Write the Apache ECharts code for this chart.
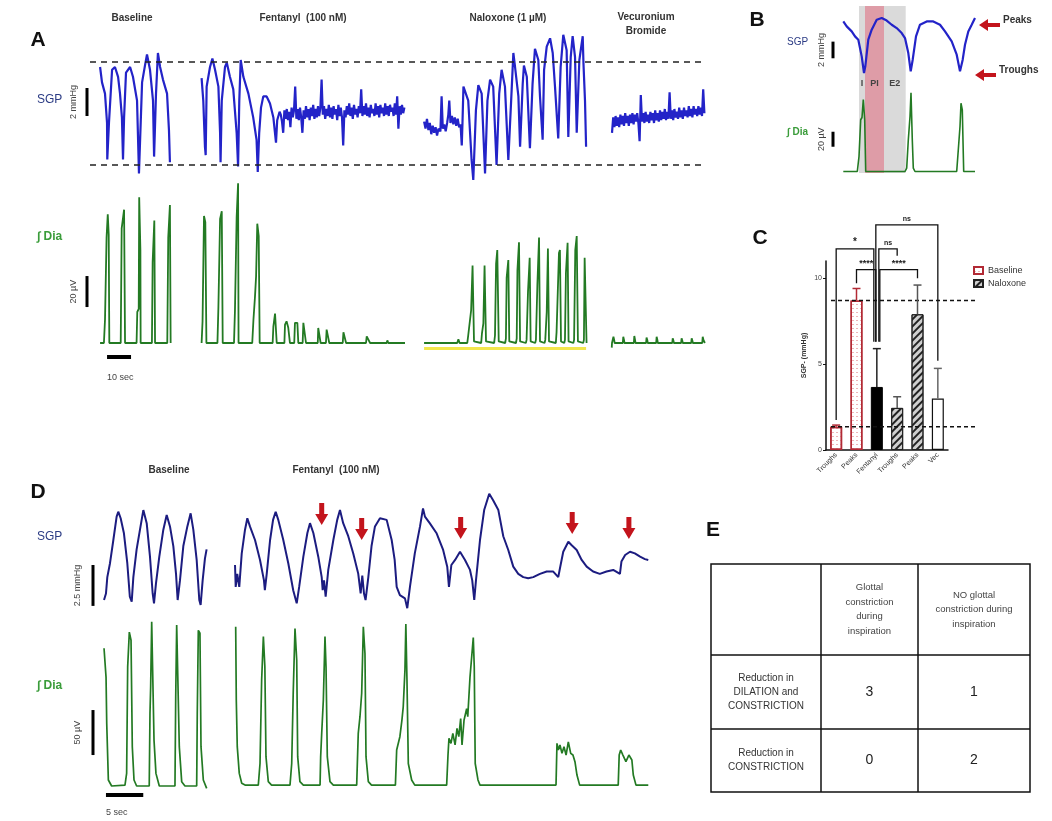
<!DOCTYPE html>
<html><head><meta charset="utf-8">
<script src="https://cdn.jsdelivr.net/npm/echarts@6/dist/echarts.min.js"></script>
<style>html,body{margin:0;padding:0;background:#fff}#c{width:1052px;height:821px}</style>
</head><body><div id="c"></div>
<script>
// ---------------- DATA ----------------
// Panel A – SGP (mmHg, relative to lower dashed line), time in s
const aSgpBase = [[4.2,7.0],[5.0,5.9],[6.25,5.1],[7.1,3.0],[7.2,0.4],[7.9,3.0],[9.2,6.8],[10.4,7.0],[11.7,6.3],[12.5,5.1],[13.3,3.4],[13.75,0.4],[14.2,3.4],[15.0,6.6],[16.7,7.0],[17.9,6.3],[19.6,4.6],[20.4,-0.6],[21.7,5.9],[22.9,7.1],[23.75,7.9],[25.0,6.8],[26.25,4.6],[26.7,0.6],[27.5,5.1],[28.3,8.0],[29.2,7.0],[30.4,6.1],[32.1,5.1],[32.9,2.5],[33.3,0.2]];
const aSgpFentOsc = [[46.5,6.2],[47.2,4.6],[47.9,1.3],[48.2,0.7],[48.6,5.6],[50.0,7.0],[51.0,7.6],[52.1,6.8],[53.5,5.6],[54.2,2.3],[54.4,0.2],[54.9,4.6],[56.25,7.0],[57.0,7.3],[58.3,6.3],[59.7,5.4],[61.1,2.3],[61.7,-0.1],[62.2,4.6],[62.8,7.5],[63.2,7.5],[63.9,6.3],[66.0,5.1],[68.0,3.4],[69.4,1.8],[69.9,-0.5],[70.5,2.3],[71.25,4.1],[72.2,4.9],[73.6,4.9],[75.0,4.4],[76.4,3.4],[77.5,1.6],[78.0,3.2],[79.0,3.8]];
const aSgpFentFlatT0 = 79.5, aSgpFentFlatDt = 0.5;
const aSgpFentFlat = [3.6,3.1,2.3,3.9,3.3,4.0,3.2,3.8,2.7,4.1,3.4,3.9,5.6,3.3,4.0,3.2,4.1,3.4,2.3,3.9,3.3,4.2,3.4,4.0,3.2,4.1,3.5,4.3,3.3,4.0,3.4,4.2,3.5,4.1,6.1,3.6,4.2,3.3,4.0,3.5,4.3,3.4,4.1,3.3,4.2,3.6,4.0,3.2,4.3,3.5,4.1,3.4,1.4,3.9,3.4,4.2,3.6,4.4,3.5,4.1,3.3,4.3,3.6,4.0,3.4,4.2,3.7,5.4,3.5,4.2,3.6,4.4,3.5,4.1,3.4,4.3,3.7,4.0,3.5,4.4,3.6,4.2,3.4,4.3,3.7,4.1,3.5,4.4,3.6,4.2,3.5,4.3,3.8,4.1,3.5,4.4,3.6,4.9,2.6,4.2,3.6,4.3,3.7,4.1];
const aSgpNal = [[139.2,3.1],[139.8,2.6],[140.4,3.3],[141.0,2.5],[141.6,3.0],[142.2,2.2],[142.8,2.8],[143.4,2.3],[144.0,2.7],[144.6,2.1],[145.2,2.6],[146.0,2.4],[146.5,4.9],[147.0,2.6],[147.6,2.9],[148.2,2.4],[148.8,3.0],[149.3,3.6],[149.7,4.6],[150.2,3.0],[150.8,3.5],[151.4,2.9],[152.0,3.4],[152.6,2.8],[153.2,3.3],[153.8,2.7],[154.4,2.9],[154.9,1.4],[155.2,3.0],[155.6,5.6],[157.6,4.6],[159.0,0.36],[159.7,-1.07],[160.8,3.9],[161.8,5.7],[163.2,5.1],[164.6,-0.6],[165.6,4.6],[166.7,6.1],[168.0,5.6],[169.4,0.0],[170.5,5.1],[171.5,6.8],[172.9,5.6],[174.3,0.36],[175.7,5.4],[176.4,8.0],[177.1,7.0],[178.5,4.9],[179.2,1.3],[180.3,5.8],[180.8,7.1],[182.0,6.3],[183.3,1.2],[184.4,5.8],[185.4,8.3],[186.8,7.5],[187.5,4.9],[188.6,1.8],[189.2,6.8],[190.3,8.45],[191.7,9.05],[192.8,8.0],[193.75,5.6],[195.1,1.9],[196.1,7.0],[197.2,9.3],[198.6,8.2],[199.3,2.0],[200.3,7.7],[201.1,9.2],[202.1,7.7],[202.8,2.3],[203.9,7.5],[205.3,9.2],[205.6,7.3],[206.25,4.6],[206.7,1.3]];
const aSgpVecT0 = 217.5, aSgpVecDt = 0.5;
const aSgpVec = [2.3,3.4,2.7,3.5,2.8,3.4,2.7,3.6,2.9,3.5,2.8,3.7,3.0,3.5,2.8,3.6,3.0,3.7,2.9,3.6,3.1,3.7,3.0,1.7,5.0,3.1,3.7,3.0,3.8,3.1,3.6,3.0,3.8,3.2,3.7,3.0,3.9,3.2,3.7,3.1,3.9,3.2,3.8,3.3,4.0,3.2,3.8,3.3,5.2,3.3,3.9,3.2,4.0,3.4,3.8,3.3,4.1,3.4,3.9,3.3,4.1,3.5,3.9,3.4,4.2,3.5,4.0,3.4,4.2,3.6,4.0,3.5,4.2,3.6,4.1,3.5,5.4,3.7];
const aDashLevels = [0, 7.4];
// Panel A – integrated diaphragm (µV)
const aDiaBase = [[4.2,0],[5.8,0],[6.25,15],[6.7,15],[6.9,68],[7.4,83],[7.8,70],[8.05,0],[12.8,0],[13.2,74],[13.6,74],[14.2,86],[14.6,0],[19.4,0],[19.7,20],[20.3,22],[20.5,94],[21.0,60],[21.1,0],[25.8,0],[26.1,52],[26.5,52],[26.8,79],[27.1,0],[32.2,0],[32.6,68],[33.0,68],[33.3,89],[33.6,0]];
const aDiaFent = [[46.5,0],[46.7,0],[46.9,14],[47.4,14],[47.5,82],[48.05,78],[48.5,0],[53.1,0],[53.5,23],[53.9,23],[54.2,80],[54.9,85],[55.3,0],[60.0,0],[60.4,21],[60.8,21],[61.1,81],[61.7,103],[61.9,0],[67.6,0],[68.1,15],[68.75,30],[69.2,43],[69.7,77],[70.3,69],[70.7,0],[76.1,0],[76.4,10.5],[77.1,19],[77.5,20],[77.8,0],[81.0,0],[81.25,11.8],[81.9,14],[82.6,10],[83.1,3],[83.3,0],[85.1,0],[85.4,13],[86.4,13],[86.8,0],[88.6,0],[88.9,13],[89.6,13],[90.0,0],[94.9,0],[95.1,9.7],[95.8,10],[96.1,0],[98.3,0],[98.6,8.6],[99.4,8.6],[99.7,0],[105.3,0],[105.6,6.9],[106.25,7.5],[106.7,0],[115.0,0],[115.3,4.3],[116.0,4.5],[116.7,0],[123.6,0],[123.9,1.7],[124.3,0],[131.25,0]];
const aDiaNal = [[139.2,0],[153.0,0],[153.5,2.4],[154.0,0],[157.2,0],[157.6,5],[158.8,21],[159.4,50],[160.0,1],[163.0,0],[163.3,6],[163.9,12.7],[164.4,50],[165.0,1],[168.4,0],[168.75,5],[169.2,51],[169.7,60],[170.3,1],[173.0,0],[173.3,3],[173.6,42],[174.3,53.5],[174.7,1],[177.5,0],[177.8,3],[178.1,47],[178.75,65],[179.2,1],[181.6,0],[181.9,2],[182.5,33],[183.2,55],[183.6,1],[185.5,0],[185.8,2],[186.4,37],[187.1,68],[187.5,1],[189.4,0],[189.7,2],[190.3,20],[190.8,61],[191.25,1],[194.1,0],[194.4,7],[195.1,8],[195.4,58],[195.8,60],[196.25,1],[197.6,0],[197.9,2],[198.3,45],[199.0,64.7],[199.4,1],[201.4,0],[201.7,2],[202.2,60],[202.8,69],[203.3,1],[205.5,0],[205.8,2],[206.1,55],[206.7,55],[206.9,0]];
const aDiaVec = [[217.4,-3],[217.5,0],[217.9,0],[218.1,4],[218.4,2],[218.6,0],[222.0,0],[222.2,4],[222.5,2],[222.7,0],[226.6,0],[226.8,4.5],[227.1,2],[227.3,0],[231.7,0],[231.9,3.5],[232.2,2],[232.4,0],[235.9,0],[236.1,4],[236.4,2],[236.6,0],[242.6,0],[242.8,3],[243.1,1.5],[243.3,0],[246.3,0],[246.5,3],[246.8,1.5],[247.0,0],[250.5,0],[250.7,3],[251.0,1.5],[251.2,0],[255.1,0],[255.3,4],[255.6,2],[256.2,0]];
const aNaloxonePeriod = [139.2, 206.7];
// Panel B
const bSgp = [[0.33,7.0],[0.67,6.4],[1.17,5.8],[1.5,5.2],[1.83,4.8],[2.17,2.8],[2.4,0.8],[2.53,1.6],[2.83,4.8],[3.17,6.0],[3.67,7.2],[4.17,7.4],[4.67,7.1],[5.17,6.6],[5.67,6.2],[6.17,5.6],[6.5,5.0],[6.83,3.2],[7.07,1.0],[7.27,2.4],[7.6,5.2],[8.0,6.6],[8.67,7.0],[9.33,7.0],[10.0,6.6],[10.5,5.8],[11.17,4.6],[11.67,3.0],[12.0,1.0],[12.27,2.4],[12.5,4.2],[12.83,5.8],[13.17,6.6],[13.5,7.4]];
const bDia = [[0.33,0],[1.73,0],[1.9,20],[2.07,69],[2.2,72],[2.33,96],[2.47,69],[2.57,0],[6.5,0],[6.67,4.5],[6.83,42],[7.0,73],[7.1,105],[7.23,42],[7.33,4.5],[7.5,0],[11.67,0],[11.83,29],[12.0,60],[12.1,91],[12.23,82],[12.37,0],[13.5,0]];
const bPhases = [['I',1.9,2.5],['PI',2.5,4.4],['E2',4.4,6.57]];
// Panel C
const cCategories = ['Troughs','Peaks','Fentanyl','Troughs','Peaks','Vec'];
const cGroups = ['Baseline','Baseline','Fentanyl','Naloxone','Naloxone','Vec'];
const cValues = [1.35, 8.7, 3.67, 2.45, 7.9, 3.0];
const cErrUpper = [1.45, 9.4, 5.9, 3.1, 9.6, 4.75];
const cRefLevels = [8.7, 1.35];
const cSig = [[0,2,11.7,1.75,6.3],[2,3,11.7,6.3,11.3],[1,2,10.5,9.7,6.3],[2,4,10.5,6.3,10.0],[2,5,13.1,6.3,5.2]];
const cSigLabels = ['*','ns','****','****','ns'];
// Panel D
const dSgpBase = [[0.54,0.6],[0.8,1.0],[0.98,2.0],[1.34,2.85],[1.79,4.27],[2.23,5.7],[2.45,6.0],[2.77,5.6],[3.2,4.7],[3.66,2.85],[4.0,0.8],[4.25,0.5],[4.47,2.0],[4.91,3.7],[5.36,4.9],[5.81,6.1],[6.26,5.3],[6.7,3.25],[7.06,1.0],[7.24,0.4],[7.5,1.6],[7.95,3.25],[8.49,4.9],[8.94,5.8],[9.38,5.1],[9.83,3.9],[10.19,2.2],[10.41,0.6],[10.72,1.8],[11.17,3.9],[11.71,5.1],[12.15,5.9],[12.51,4.9],[12.96,3.05],[13.31,0.6],[13.49,0.3],[13.76,1.8],[14.07,3.15],[14.29,3.7]];
const dSgpFent = [[18.1,2.74],[18.19,1.4],[18.4,2.2],[18.67,1.4],[19.0,3.45],[19.44,4.9],[19.75,5.6],[20.1,5.1],[20.78,4.27],[21.45,3.05],[21.98,1.8],[22.1,1.2],[22.35,2.2],[22.8,4.27],[23.2,5.5],[23.55,6.0],[23.9,5.5],[24.57,4.27],[25.24,2.85],[25.9,1.2],[26.37,0.4],[26.7,1.4],[27.26,3.25],[27.8,4.7],[28.15,5.3],[28.6,4.7],[29.26,3.25],[29.72,2.0],[29.85,1.2],[30.03,1.8],[30.25,0.8],[30.6,2.44],[31.28,4.27],[31.8,5.5],[32.17,6.1],[32.6,5.3],[33.28,4.5],[33.95,3.45],[34.62,2.2],[34.94,1.0],[35.16,2.1],[35.39,1.0],[35.6,0.6],[35.97,2.0],[36.4,3.9],[36.86,5.1],[37.53,5.6],[38.43,5.5],[39.1,4.27],[39.5,3.05],[39.77,1.4],[40.2,0.9],[40.88,0.7],[41.19,0.1],[41.55,1.4],[42.2,3.45],[42.9,5.1],[43.3,6.2],[43.56,5.7],[44.2,5.3],[45.1,4.7],[46.0,3.66],[46.55,2.64],[46.78,1.4],[47.1,2.74],[47.6,3.05],[48.26,3.55],[48.93,3.05],[49.6,2.44],[49.9,1.8],[50.17,0.6],[50.4,1.8],[50.94,4.27],[51.5,6.1],[52.18,7.1],[52.7,6.7],[53.4,6.1],[54.06,4.5],[54.73,3.66],[55.4,2.64],[56.07,2.2],[56.74,2.0],[57.4,1.93],[58.08,2.0],[58.98,2.2],[59.88,2.34],[60.76,2.34],[61.43,2.0],[61.66,2.54],[62.1,3.55],[62.78,4.16],[63.2,3.96],[63.9,3.66],[64.57,3.05],[65.24,2.64],[66.1,2.34],[67.0,2.2],[67.9,2.34],[68.8,2.44],[69.7,2.2],[69.9,2.95],[70.4,3.35],[71.05,3.55],[71.7,3.45],[72.4,3.25],[73.05,3.1],[73.5,3.05]];
const dDiaBase = [[0.54,153],[0.8,153],[0.81,121],[0.9,70],[1.12,6.7],[1.56,0],[3.35,1],[3.57,14],[3.71,132.6],[3.93,171],[4.16,162],[4.33,43.7],[4.56,6.7],[4.91,0],[6.6,0],[6.7,80.8],[6.79,110],[6.93,182.6],[7.15,182.6],[7.24,51],[7.5,14],[7.95,0],[10.05,0],[10.15,99],[10.28,179],[10.5,177],[10.63,43.7],[10.95,4.8],[11.39,0],[12.96,0],[13.04,80.8],[13.18,173],[13.4,169.7],[13.54,43.7],[13.85,6.7],[14.3,-2.6]];
const dDiaFent = [[18.19,177],[18.27,95.6],[18.4,43.7],[18.67,14],[19.0,3],[19.44,1],[21.22,1],[21.45,25],[21.67,118],[21.9,166],[22.1,132.6],[22.25,32.6],[22.56,4.8],[23.0,1],[25.47,1],[25.7,25],[25.9,103],[26.14,175],[26.37,140],[26.5,32.6],[26.8,4.8],[27.26,1],[29.5,1],[29.58,32.6],[29.72,58.5],[29.94,95.6],[30.16,166],[30.3,132.6],[30.47,32.6],[30.83,4.8],[31.28,1],[34.41,1],[34.62,58.5],[34.85,77],[35.08,103],[35.3,177],[35.52,147],[35.66,32.6],[35.97,4.8],[36.4,1],[39.6,1],[39.77,40],[40.2,54.8],[40.47,73],[40.65,88],[40.88,129],[41.0,180],[41.15,118],[41.33,25],[41.78,6.7],[42.2,1],[46.47,1],[46.65,34.4],[46.78,53],[47.05,47.4],[47.3,58.5],[47.6,45.6],[47.86,64],[48.1,54.8],[48.35,75],[48.53,45.6],[48.8,73],[49.15,86],[49.3,77],[49.6,121],[49.86,147],[50.04,165],[50.17,132.6],[50.3,25],[50.67,6.7],[50.94,1],[61.13,1],[61.26,47.4],[61.44,40],[61.66,45.6],[61.93,36.3],[62.2,43.7],[62.48,34.4],[62.78,49],[63.1,36.3],[63.4,34.4],[63.67,27],[63.94,12.2],[64.3,1],[69.47,1],[69.6,34.4],[69.8,40],[70.1,34.4],[70.5,27],[70.9,34.4],[71.3,28.9],[71.49,12.2],[71.85,1],[73.5,1]];
const dArrows = [[29.72,5.18],[35.08,4.27],[48.35,4.33],[63.3,4.63],[70.9,4.33]];
// Panel E
const eColHeaders = ['Glottal\nconstriction\nduring\ninspiration','NO glottal\nconstriction during\ninspiration'];
const eRowHeaders = ['Reduction in\nDILATION and\nCONSTRICTION','Reduction in\nCONSTRICTION'];
const eCounts = [[3,1],[0,2]];

// ---------------- BUILD ----------------
const FONT = 'Liberation Sans, Arial, Helvetica, sans-serif';
const SGP_A = '#2323c8', SGP_D = '#1c1c80', DIA = '#237a23', RED = '#c3141c';
const pairs = (t0, dt, arr) => arr.map((v, i) => [t0 + i * dt, v]);

const grids = [
  {left:90, top:25, width:615, height:161},
  {left:90, top:172.5, width:615, height:178.25},
  {left:840, top:6, width:140, height:82},
  {left:840, top:88, width:140, height:85},
  {left:826, top:261, width:122, height:189},
  {left:831, top:261, width:146, height:189},
  {left:100, top:479, width:555, height:139},
  {left:100, top:615, width:555, height:175.5}
].map(g => Object.assign({containLabel:false, outerBoundsMode:'none'}, g));
const xr = [[0,256.25],[0,256.25],[0,14],[0,14],null,[0,1],[0,74.4],[0,74.4]];
const yr = [[-1.5,10],[-5,110],[-1,8.85],[-2,111.3],[0,11],[0,11],[-0.5,8],[-5,190]];

const xAxes = xr.map((r, i) => r ? {type:'value', gridIndex:i, min:r[0], max:r[1], show:false} : {
  type:'category', gridIndex:i, data:cCategories, boundaryGap:true,
  axisLine:{lineStyle:{color:'#111', width:1.5}},
  axisTick:{alignWithLabel:true, length:3, lineStyle:{color:'#111'}},
  axisLabel:{rotate:45, interval:0, fontSize:7, color:'#333', margin:4, fontFamily:FONT}
});
const yAxes = yr.map((r, i) => i !== 4 ? {type:'value', gridIndex:i, min:r[0], max:r[1], show:false} : {
  type:'value', gridIndex:i, min:0, max:11, interval:5,
  axisLine:{show:true, lineStyle:{color:'#111', width:1.5}},
  axisTick:{show:true, length:3, customValues:[0,5,10], lineStyle:{color:'#111'}},
  axisLabel:{fontSize:7, color:'#444', customValues:[0,5,10], fontFamily:FONT, margin:4},
  splitLine:{show:false},
  name:'SGP- (mmHg)', nameLocation:'middle', nameRotate:90, nameGap:18,
  nameTextStyle:{fontSize:7, fontWeight:'bold', color:'#333', fontFamily:FONT}
});

function trace(g, data, color, w, extra) {
  return Object.assign({type:'line', xAxisIndex:g, yAxisIndex:g, data:data, symbol:'none',
    lineStyle:{color:color, width:w}, silent:true, z:3, animation:false}, extra || {});
}

const series = [];
// A SGP
series.push(trace(0, aSgpBase, SGP_A, 2.2, {markLine:{silent:true, symbol:'none', animation:false,
  label:{show:false}, lineStyle:{type:[6,5], color:'#222', width:1.5},
  data: aDashLevels.map(v => ({yAxis:v}))}}));
series.push(trace(0, aSgpFentOsc.concat(pairs(aSgpFentFlatT0, aSgpFentFlatDt, aSgpFentFlat)), SGP_A, 2.2));
series.push(trace(0, aSgpNal, SGP_A, 2.2));
series.push(trace(0, pairs(aSgpVecT0, aSgpVecDt, aSgpVec), SGP_A, 2.2));
// A Dia
[aDiaBase, aDiaFent, aDiaNal, aDiaVec].forEach(d => series.push(trace(1, d, DIA, 1.8)));
series.push(trace(1, aNaloxonePeriod.map(t => [t, -3.6]), '#f2e64c', 3));
// B
const phaseColors = {I:'rgba(205,205,205,0.75)', PI:'rgba(195,75,95,0.55)', E2:'rgba(205,205,205,0.75)'};
function phaseArea(withLabel) {
  return {silent:true, animation:false, data: bPhases.map(p => [
    {xAxis:p[1], itemStyle:{color:phaseColors[p[0]]},
     label: withLabel ? {show:true, position:'insideBottom', formatter:p[0], fontSize:9, fontWeight:'bold', color:'#444', distance:0, fontFamily:FONT} : {show:false}},
    {xAxis:p[2]}])};
}
series.push(trace(2, bSgp, SGP_A, 2.2, {markArea: phaseArea(true)}));
series.push(trace(3, bDia, DIA, 1.6, {markArea: phaseArea(false)}));
// C bars
const barStyles = {
  Baseline:{color:'#fff', borderColor:'#b22a35', borderWidth:1.5,
    decal:{symbol:'rect', symbolSize:1, color:'rgba(215,90,100,0.45)', dashArrayX:[2,2], dashArrayY:[1,2.5]}},
  Fentanyl:{color:'#000', borderColor:'#000', borderWidth:1},
  Naloxone:{color:'#cfcfcf', borderColor:'#222', borderWidth:1,
    decal:{symbol:'rect', symbolSize:1, color:'#222', dashArrayX:[1,0], dashArrayY:[2,2.5], rotation:-Math.PI/4}},
  Vec:{color:'#fff', borderColor:'#111', borderWidth:1.2}
};
['Baseline','Fentanyl','Naloxone','Vec'].forEach(gname => {
  series.push({type:'bar', name:gname, xAxisIndex:4, yAxisIndex:4, barWidth:12, barGap:'-100%',
    data: cValues.map((v, i) => cGroups[i] === gname ? v : '-'), itemStyle: barStyles[gname],
    silent:true, animation:false});
});
const errColors = {Baseline:'#b22a35', Fentanyl:'#222', Naloxone:'#555', Vec:'#666'};
series.push({type:'custom', xAxisIndex:4, yAxisIndex:4, animation:false, silent:true, z:4,
  data: cValues.map((v, i) => [i, v, cErrUpper[i]]), encode:{x:0, y:1},
  renderItem: function (params, api) {
    const i = api.value(0), p1 = api.coord([i, api.value(1)]), p2 = api.coord([i, api.value(2)]);
    const col = errColors[cGroups[params.dataIndex]];
    return {type:'group', children:[
      {type:'line', shape:{x1:p1[0], y1:p1[1], x2:p2[0], y2:p2[1]}, style:{stroke:col, lineWidth:1.5}},
      {type:'line', shape:{x1:p2[0]-4, y1:p2[1], x2:p2[0]+4, y2:p2[1]}, style:{stroke:col, lineWidth:1.5}}]};
  }});
const sigDx = [[0,-3],[2,0],[0,-1],[3,0],[-1,0]];
series.push({type:'custom', xAxisIndex:4, yAxisIndex:4, animation:false, silent:true, clip:false, z:5,
  data: cSig, encode:{x:0, y:2},
  renderItem: function (params, api) {
    const k = params.dataIndex;
    const a = api.value(0), b = api.value(1), top = api.value(2), le = api.value(3), re = api.value(4);
    const pT1 = api.coord([a, top]), pT2 = api.coord([b, top]);
    const pL = api.coord([a, le]), pR = api.coord([b, re]);
    const xl = pT1[0] + sigDx[k][0], xr2 = pT2[0] + sigDx[k][1];
    const lab = cSigLabels[k];
    return {type:'group', children:[
      {type:'polyline', shape:{points:[[xl, pL[1]],[xl, pT1[1]],[xr2, pT1[1]],[xr2, pR[1]]]},
        style:{stroke:'#111', lineWidth:1.3, fill:null}},
      {type:'text', x:(xl + xr2) / 2, y:pT1[1] - 2,
        style:{text:lab, fontSize: lab === 'ns' ? 7 : (lab === '*' ? 10 : 9), fontWeight:'bold', fill:'#222',
          align:'center', verticalAlign:'bottom', fontFamily:FONT}}]};
  }});
// C reference lines
cRefLevels.forEach(v => series.push(trace(5, [[0, v],[1, v]], '#111', 1.5, {lineStyle:{color:'#111', width:1.5, type:[4,3]}})));
// D
series.push(trace(6, dSgpBase, SGP_D, 2));
series.push(trace(6, dSgpFent, SGP_D, 2));
series.push(trace(7, dDiaBase, DIA, 1.7));
series.push(trace(7, dDiaFent, DIA, 1.7));
series.push({type:'custom', xAxisIndex:6, yAxisIndex:6, animation:false, silent:true, clip:false, z:6,
  data: dArrows,
  renderItem: function (params, api) {
    const p = api.coord([api.value(0), api.value(1)]), x = p[0], y = p[1];
    return {type:'polygon', shape:{points:[[x-2.5,y-22],[x+2.5,y-22],[x+2.5,y-11],[x+6.5,y-11],[x,y],[x-6.5,y-11],[x-2.5,y-11]]},
      style:{fill:RED}};
  }});

const chart = echarts.init(document.getElementById('c'), null, {renderer:'canvas'});
chart.setOption({
  backgroundColor:'#fff', animation:false,
  grid: grids, xAxis: xAxes, yAxis: yAxes, series: series,
  legend:{data:['Baseline','Naloxone'], left:968, top:261, orient:'vertical', itemWidth:9, itemHeight:7, itemGap:4,
    icon:'rect', selectedMode:false, textStyle:{fontSize:9, color:'#333', fontFamily:FONT}}
});

// ---------------- ANNOTATIONS ----------------
const G = [];
function txt(x, y, text, o) {
  o = o || {};
  G.push({type:'text', x:x, y:y, rotation:o.rot || 0, z:10,
    style:{text:text, fontSize:o.size || 10, fontWeight:o.weight || 'normal', fill:o.color || '#333',
      align:o.align || 'center', verticalAlign:o.valign || 'middle', fontFamily:FONT, lineHeight:o.lh}});
}
function ln(x1, y1, x2, y2, w, c) {
  G.push({type:'line', z:10, shape:{x1:x1, y1:y1, x2:x2, y2:y2}, style:{stroke:c || '#000', lineWidth:w}});
}
const px = (g, x, y) => chart.convertToPixel({gridIndex:g}, [x, y]);
// panel letters
[['A',38,40],['B',757,20],['C',760,238],['D',38,492],['E',713,530]].forEach(l => txt(l[1], l[2], l[0], {size:21, weight:'bold', color:'#111'}));
// A headers
txt(132, 18, 'Baseline', {size:10, weight:'bold'});
txt(303, 18, 'Fentanyl  (100 nM)', {size:10, weight:'bold'});
txt(508, 18, 'Naloxone (1 µM)', {size:10, weight:'bold'});
txt(646, 24, 'Vecuronium\nBromide', {size:10, weight:'bold', lh:14});
// D headers
txt(169, 470, 'Baseline', {size:10, weight:'bold'});
txt(336, 470, 'Fentanyl  (100 nM)', {size:10, weight:'bold'});
// channel labels
const navy = '#2b3b84', green = '#3a9c3a';
txt(37, 100, 'SGP', {size:12, color:navy, align:'left'});
txt(37, 237, '∫ Dia', {size:12, color:green, align:'left', weight:'bold'});
txt(787, 42, 'SGP', {size:10, color:navy, align:'left'});
txt(787, 132, '∫ Dia', {size:10, color:green, align:'left', weight:'bold'});
txt(37, 537, 'SGP', {size:12, color:navy, align:'left'});
txt(37, 686, '∫ Dia', {size:12, color:green, align:'left', weight:'bold'});
// vertical scale bars (computed from the grids' value scales)
const vBars = [[0,3.5,5.5,87,74,'2 mmHg'],[1,23.2,43.2,87,74,'20 µV'],[2,2.57,4.57,833,822,'2 mmHg'],
  [3,33,53,833,822,'20 µV'],[6,0.24,2.74,93,78,'2.5 mmHg'],[7,34.4,84.4,93,78,'50 µV']];
vBars.forEach(b => {
  const y1 = px(b[0], 0, b[1])[1], y2 = px(b[0], 0, b[2])[1];
  ln(b[3], y1, b[3], y2, 3);
  txt(b[4], (y1 + y2) / 2, b[5], {size:9, rot:Math.PI / 2, color:'#444'});
});
// time bars
const hBars = [[1,7.1,10,357,378,'10 sec'],[7,0.8,5,795,813,'5 sec']];
hBars.forEach(b => {
  const x1 = px(b[0], b[1], 0)[0], x2 = px(b[0], b[1] + b[2], 0)[0];
  ln(x1, b[3], x2, b[3], 4);
  txt(x1, b[4], b[5], {size:9, align:'left', color:'#444'});
});
// B arrows
G.push({type:'polygon', z:10, shape:{points:[[979,25],[988,19],[988,23],[1000,23],[1000,27],[988,27],[988,31]]}, style:{fill:RED}});
G.push({type:'polygon', z:10, shape:{points:[[975,75],[984,69],[984,73],[996,73],[996,77],[984,77],[984,81]]}, style:{fill:RED}});
txt(1003, 20, 'Peaks', {size:10, weight:'bold', align:'left'});
txt(999, 70, 'Troughs', {size:10, weight:'bold', align:'left'});
// E table
const eCols = [711, 821, 918, 1030], eRows = [564, 655, 729, 792];
G.push({type:'rect', z:10, shape:{x:eCols[0], y:eRows[0], width:eCols[3]-eCols[0], height:eRows[3]-eRows[0]}, style:{fill:null, stroke:'#111', lineWidth:1.5}});
[1,2].forEach(i => ln(eCols[i], eRows[0], eCols[i], eRows[3], 1.5, '#111'));
[1,2].forEach(i => ln(eCols[0], eRows[i], eCols[3], eRows[i], 1.5, '#111'));
eColHeaders.forEach((h, j) => txt((eCols[j+1] + eCols[j+2]) / 2, (eRows[0] + eRows[1]) / 2, h, {size:9.5, color:'#444', lh:14.5}));
eRowHeaders.forEach((h, i) => txt((eCols[0] + eCols[1]) / 2, (eRows[i+1] + eRows[i+2]) / 2, h, {size:10, color:'#333', lh:14}));
eCounts.forEach((r, i) => r.forEach((c, j) => txt((eCols[j+1] + eCols[j+2]) / 2, (eRows[i+1] + eRows[i+2]) / 2, String(c), {size:14, color:'#222'})));

chart.setOption({graphic: G});
</script></body></html>
